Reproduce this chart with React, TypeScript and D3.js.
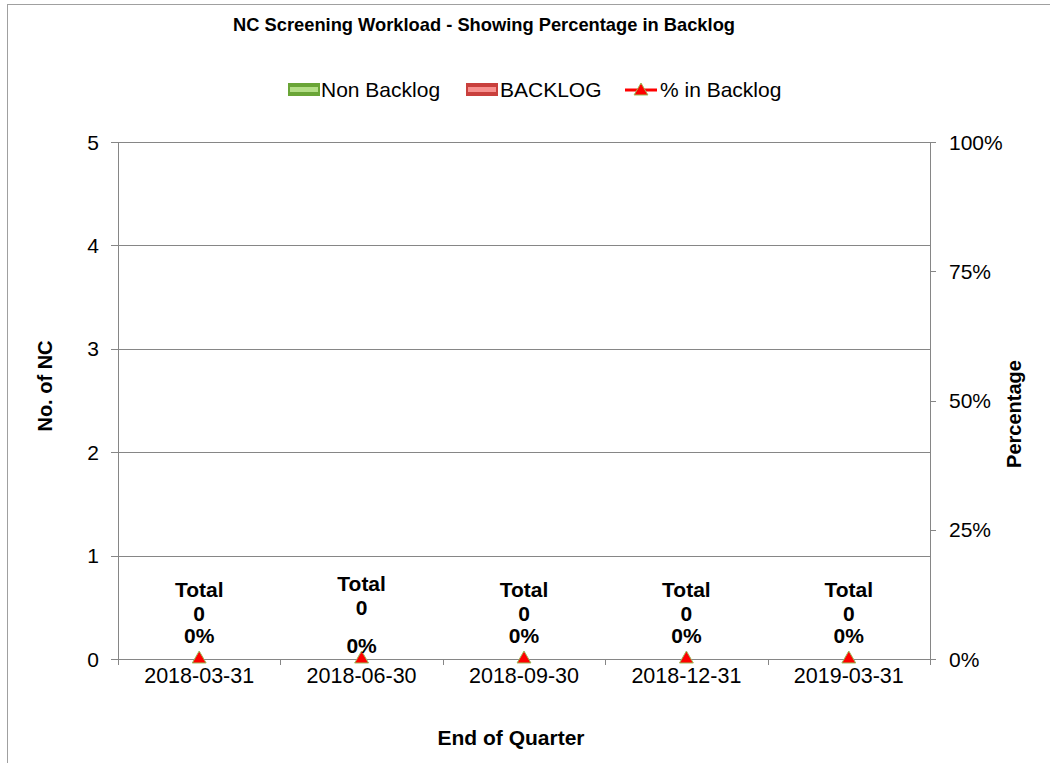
import React from "react";
import * as d3 from "d3";

const categories = ["2018-03-31", "2018-06-30", "2018-09-30", "2018-12-31", "2019-03-31"];
const nonBacklog = [0, 0, 0, 0, 0];
const backlog = [0, 0, 0, 0, 0];
const pctBacklog = [0, 0, 0, 0, 0];
const leftTicks = [0, 1, 2, 3, 4, 5];
const rightTicks = [0, 0.25, 0.5, 0.75, 1];

const FONT = "'Liberation Sans', Arial, sans-serif";

export default function App() {
  const W = 1050, H = 763;
  const m = { left: 118, right: 930, top: 142, bottom: 659 };
  const x = d3.scaleBand<string>().domain(categories).range([m.left, m.right]).paddingInner(0.5).paddingOuter(0.25);
  const xc = (c: string) => (x(c) as number) + x.bandwidth() / 2;
  const step = (m.right - m.left) / categories.length;
  const yL = d3.scaleLinear().domain([0, 5]).range([m.bottom, m.top]);
  const yR = d3.scaleLinear().domain([0, 1]).range([m.bottom, m.top]);
  const tri = d3.symbol().type(d3.symbolTriangle).size(83)();
  const stack = d3.stack<number>().keys(["non", "back"]).value((i, k) => (k === "non" ? nonBacklog[i] : backlog[i]))(categories.map((_, i) => i));
  const grid = "#868686";
  // vertical offset of the data labels for the second category (as drawn in the reference)
  const totalShift = [0, -6, 0, 0, 0];
  const pctShift = [0, 10, 0, 0, 0];

  return (
    <svg width={W} height={H} style={{ position: "absolute", left: 0, top: 0 }} fontFamily={FONT}>
      <rect x={0} y={0} width={W} height={H} fill="#fff" />
      <rect x={7.5} y={4.5} width={1200} height={900} fill="none" stroke="#a0a0a0" strokeWidth={1} />
      <text x={484} y={31} textAnchor="middle" fontSize={19} fontWeight="bold" textLength={502} lengthAdjust="spacingAndGlyphs">
        NC Screening Workload - Showing Percentage in Backlog
      </text>

      {/* legend */}
      <g>
        <rect x={288} y={83} width={32} height={13} fill="#6aa537" />
        <rect x={290} y={87} width={28} height={5} fill="#b3de86" />
        <text x={321} y={97} fontSize={21}>Non Backlog</text>
        <rect x={466} y={83} width={32} height={13} fill="#c9403d" />
        <rect x={468} y={87} width={28} height={5} fill="#f7908e" />
        <text x={500} y={97} fontSize={21}>BACKLOG</text>
        <line x1={625} x2={657} y1={90} y2={90} stroke="#ff0000" strokeWidth={3} />
        <path d={tri as string} transform="translate(641,91)" fill="#ff0000" stroke="#9bbb59" strokeWidth={1} />
        <text x={660} y={97} fontSize={21}>% in Backlog</text>
      </g>

      {/* gridlines */}
      {leftTicks.map((t) => (
        <line key={"g" + t} x1={m.left - 7} x2={m.right} y1={Math.round(yL(t)) + 0.5} y2={Math.round(yL(t)) + 0.5} stroke={grid} strokeWidth={1} />
      ))}
      {leftTicks.map((t) => (
        <text key={"lt" + t} x={99} y={yL(t) + 7.5} textAnchor="end" fontSize={21}>{t}</text>
      ))}
      {rightTicks.map((t) => (
        <g key={"rt" + t}>
          <line x1={m.right} x2={m.right + 6} y1={Math.round(yR(t)) + 0.5} y2={Math.round(yR(t)) + 0.5} stroke={grid} />
          <text x={949} y={yR(t) + 7.5} fontSize={21}>{d3.format(".0%")(t)}</text>
        </g>
      ))}
      {/* axes */}
      <line x1={m.left + 0.5} x2={m.left + 0.5} y1={m.top} y2={m.bottom + 6} stroke={grid} />
      <line x1={m.right + 0.5} x2={m.right + 0.5} y1={m.top} y2={m.bottom + 6} stroke={grid} />
      {d3.range(categories.length + 1).map((k) => (
        <line key={"xt" + k} x1={Math.round(m.left + step * k) + 0.5} x2={Math.round(m.left + step * k) + 0.5} y1={m.bottom} y2={m.bottom + 6} stroke={grid} />
      ))}

      {/* bars */}
      {stack.map((s, si) => (
        <g key={"s" + si} fill={si === 0 ? "#6aa537" : "#c9403d"}>
          {s.map((d, i) => (
            <rect key={i} x={x(categories[i])} width={x.bandwidth()} y={yL(d[1])} height={yL(d[0]) - yL(d[1])} />
          ))}
        </g>
      ))}

      {/* markers */}
      {categories.map((c, i) => (
        <path key={"m" + c} d={tri as string} transform={`translate(${xc(c)},${yR(pctBacklog[i])})`} fill="#ff0000" stroke="#9bbb59" strokeWidth={1} />
      ))}

      {/* data labels */}
      {categories.map((c, i) => {
        const total = nonBacklog[i] + backlog[i];
        const y0 = yL(total);
        return (
          <g key={"dl" + c} fontWeight="bold" fontSize={21} textAnchor="middle">
            <text x={xc(c)} y={y0 - 62 + totalShift[i]}>Total</text>
            <text x={xc(c)} y={y0 - 38 + totalShift[i]}>{total}</text>
            <text x={xc(c)} y={yR(pctBacklog[i]) - 16 + pctShift[i]}>{d3.format(".0%")(pctBacklog[i])}</text>
          </g>
        );
      })}

      {/* x tick labels */}
      {categories.map((c) => (
        <text key={"xl" + c} x={xc(c)} y={683} textAnchor="middle" fontSize={21.5}>{c}</text>
      ))}

      <text x={511} y={745} textAnchor="middle" fontSize={21} fontWeight="bold">End of Quarter</text>
      <text transform="translate(52,386) rotate(-90)" textAnchor="middle" fontSize={20} fontWeight="bold">No. of NC</text>
      <text transform="translate(1021,414) rotate(-90)" textAnchor="middle" fontSize={20} fontWeight="bold">Percentage</text>
    </svg>
  );
}
